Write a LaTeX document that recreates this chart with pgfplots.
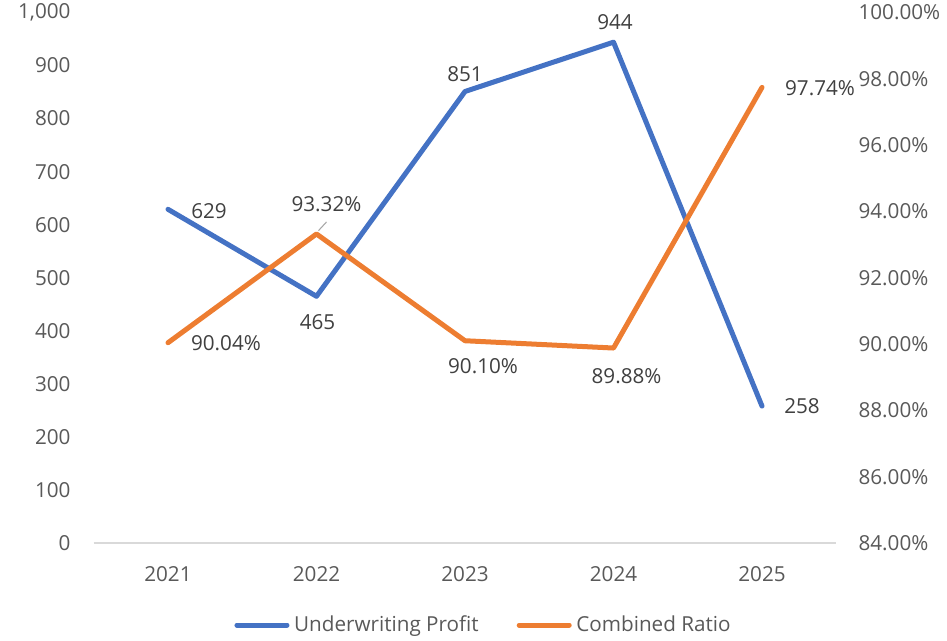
\documentclass[border=0pt]{standalone}
\usepackage{pgfplots}
\usepackage{pgfplotstable}
\pgfplotsset{compat=1.18}
\usepackage{fontspec}
\setmainfont{Open Sans}
\definecolor{cblue}{HTML}{4472C4}
\definecolor{corange}{HTML}{ED7D31}
\definecolor{tickgray}{HTML}{595959}
\definecolor{labgray}{HTML}{404040}
\definecolor{axisgray}{HTML}{D9D9D9}
\definecolor{leadgray}{HTML}{A6A6A6}

\pgfplotstableread{
x y
0 629
1 465
2 851
3 944
4 258
}\profit
\pgfplotstableread{
x y
0 90.04
1 93.32
2 90.10
3 89.88
4 97.74
}\ratio

\pgfplotsset{
  lblstyle/.style 2 args={draw=none, mark=none, forget plot, point meta=y,
    nodes near coords style={anchor=center, inner sep=0pt, text=labgray,
      font=\fontsize{15.5pt}{18pt}\selectfont, xshift=#1*0.75pt, yshift=#2*0.75pt}},
}
% data label: x, y, dx, dy (offset of label centre in px, dy upward)
\newcommand\labp[4]{\addplot[lblstyle={#3}{#4},
  nodes near coords={\pgfmathprintnumber[assume math mode=true]{\pgfplotspointmeta}}]
  coordinates {(#1,#2)};}
\newcommand\labr[4]{\addplot[lblstyle={#3}{#4},
  nodes near coords={\pgfmathprintnumber[fixed,fixed zerofill,precision=2,assume math mode=true]{\pgfplotspointmeta}\%}]
  coordinates {(#1,#2)};}

\begin{document}
\fontsize{15.5pt}{18pt}\selectfont
\begin{tikzpicture}
\useasboundingbox (0,0) rectangle (710.25pt,480pt);
\pgfplotsset{
  common/.style={
    at={(70.3pt,72.75pt)}, anchor=south west,
    scale only axis, width=556.9pt, height=397.9pt,
    xmin=-0.5, xmax=4.5, clip=false,
    major tick length=0pt,
    /pgf/number format/assume math mode=true,
    tick label style={font=\fontsize{15.5pt}{18pt}\selectfont, text=tickgray},
  },
}
\begin{axis}[common,
  ymin=0, ymax=1000, ytick={0,100,...,1000},
  xtick={0,1,2,3,4}, xticklabels={2021,2022,2023,2024,2025},
  axis x line*=bottom, axis y line*=left,
  y axis line style={draw=none},
  x axis line style={draw=axisgray, line width=1.1pt},
  yticklabel style={anchor=east, inner sep=0pt, xshift=-17.25pt},
  xticklabel style={anchor=north, inner sep=0pt, yshift=-17.6pt},
]
\addplot[cblue, line width=3.75pt, line cap=round, line join=round]
  table[x=x, y=y] {\profit};
\labp{0}{629}{41}{-1.5}
\labp{1}{465}{1}{-26}
\labp{2}{851}{0}{17}
\labp{3}{944}{1.5}{20}
\labp{4}{258}{40}{0}
\end{axis}
\begin{axis}[common,
  ymin=84, ymax=100, ytick={84,86,...,100},
  hide x axis, axis y line*=right,
  y axis line style={draw=none},
  yticklabel={\pgfmathprintnumber[fixed,fixed zerofill,precision=2,assume math mode=true]{\tick}\%},
  yticklabel style={anchor=west, inner sep=0pt, xshift=16.5pt},
  legend style={at={(0.5236,-0.1546)}, anchor=center, draw=none, fill=none,
    legend columns=2, inner sep=0pt,
    font=\fontsize{15.5pt}{18pt}\selectfont, text=tickgray,
    nodes={inner sep=0pt},
    /tikz/every even column/.append style={column sep=28.5pt}},
  legend image code/.code={\draw[#1, line width=3.75pt, line cap=round] (1.875pt,0pt) -- (39.4pt,0pt);},
]
\addplot[corange, line width=3.75pt, line cap=round, line join=round, forget plot]
  table[x=x, y=y] {\ratio};
\labr{0}{90.04}{58}{0}
\labr{1}{93.32}{10}{30}
\labr{2}{90.10}{18}{-25}
\labr{3}{89.88}{13}{-28}
\labr{4}{97.74}{58}{-0.7}
\addlegendimage{cblue}
\addlegendentry{\hspace{3.5pt}Underwriting Profit}
\addlegendimage{corange}
\addlegendentry{\hspace{3.5pt}Combined Ratio}
\draw[leadgray, line width=0.8pt] (axis cs:1,93.32) ++(1.5pt,2.5pt) -- ++(6pt,6.5pt);
\end{axis}
\end{tikzpicture}
\end{document}
